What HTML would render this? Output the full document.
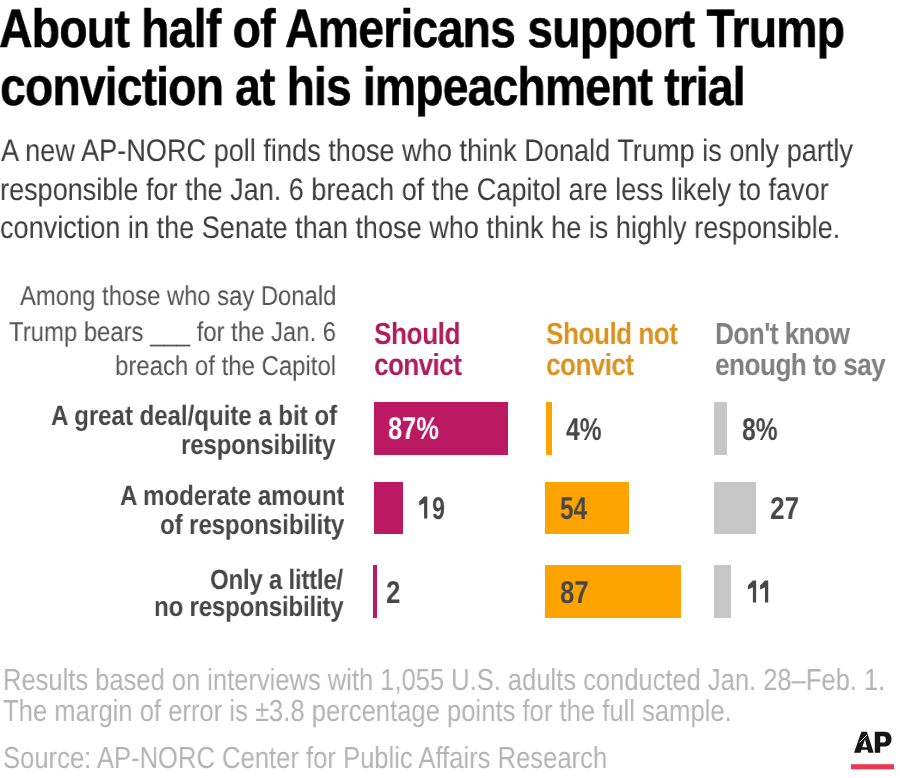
<!DOCTYPE html>
<html><head><meta charset="utf-8"><style>
html,body{margin:0;padding:0;background:#fff;}
body{width:900px;height:778px;position:relative;overflow:hidden;font-family:"Liberation Sans",sans-serif;}
.t{position:absolute;white-space:pre;line-height:0;transform-origin:0 0;text-rendering:geometricPrecision;will-change:transform;}
.b{position:absolute;}
</style></head><body>
<div class="b" style="left:374px;top:402px;width:134px;height:52.5px;background:#bb1a62"></div>
<div class="b" style="left:545.5px;top:402px;width:6.7000000000000455px;height:52.5px;background:#ffa300"></div>
<div class="b" style="left:714px;top:402px;width:13px;height:52.5px;background:#c6c6c6"></div>
<div class="b" style="left:374px;top:482px;width:29px;height:52px;background:#bb1a62"></div>
<div class="b" style="left:545px;top:482px;width:84px;height:52px;background:#ffa300"></div>
<div class="b" style="left:714px;top:482px;width:42px;height:52px;background:#c6c6c6"></div>
<div class="b" style="left:373px;top:565px;width:3.5px;height:53px;background:#bb1a62"></div>
<div class="b" style="left:545px;top:565px;width:136px;height:53px;background:#ffa300"></div>
<div class="b" style="left:714px;top:565px;width:17px;height:53px;background:#c6c6c6"></div>
<div class="t" style="left:-0.72px;top:29.40px;font-size:54px;font-weight:700;color:#000;transform:scaleX(0.8600);letter-spacing:-0.953px;-webkit-text-stroke:0.5px currentColor">About half of Americans support Trump</div>
<div class="t" style="left:0.35px;top:86.60px;font-size:54px;font-weight:700;color:#000;transform:scaleX(0.8600);letter-spacing:-1.065px;-webkit-text-stroke:0.5px currentColor">conviction at his impeachment trial</div>
<div class="t" style="left:1.03px;top:151.00px;font-size:31.2px;font-weight:400;color:#3d3d3d;transform:scaleX(0.8699);letter-spacing:0.000px">A new AP-NORC poll finds those who think Donald Trump is only partly</div>
<div class="t" style="left:0.02px;top:189.70px;font-size:31.2px;font-weight:400;color:#3d3d3d;transform:scaleX(0.8676);letter-spacing:0.000px">responsible for the Jan. 6 breach of the Capitol are less likely to favor</div>
<div class="t" style="left:-0.02px;top:228.20px;font-size:31.2px;font-weight:400;color:#3d3d3d;transform:scaleX(0.8685);letter-spacing:0.000px">conviction in the Senate than those who think he is highly responsible.</div>
<div class="t" style="left:20.03px;top:296.30px;font-size:27.3px;font-weight:400;color:#555;transform:scaleX(0.8722);letter-spacing:0.000px">Among those who say Donald</div>
<div class="t" style="left:9.05px;top:331.50px;font-size:27.3px;font-weight:400;color:#555;transform:scaleX(0.8750);letter-spacing:0.000px">Trump bears ___ for the Jan. 6</div>
<div class="t" style="left:115.45px;top:365.80px;font-size:27.3px;font-weight:400;color:#555;transform:scaleX(0.8777);letter-spacing:0.000px">breach of the Capitol</div>
<div class="t" style="left:373.59px;top:333.80px;font-size:30.5px;font-weight:700;color:#b01c5e;transform:scaleX(0.8600);letter-spacing:-0.566px">Should</div>
<div class="t" style="left:373.57px;top:365.20px;font-size:30.5px;font-weight:700;color:#b01c5e;transform:scaleX(0.8600);letter-spacing:-0.788px">convict</div>
<div class="t" style="left:546.19px;top:333.80px;font-size:30.5px;font-weight:700;color:#db931e;transform:scaleX(0.8600);letter-spacing:-0.646px">Should not</div>
<div class="t" style="left:546.17px;top:365.20px;font-size:30.5px;font-weight:700;color:#db931e;transform:scaleX(0.8600);letter-spacing:-0.710px">convict</div>
<div class="t" style="left:714.66px;top:333.80px;font-size:30.5px;font-weight:700;color:#808080;transform:scaleX(0.8600);letter-spacing:-0.696px">Don&#x27;t know</div>
<div class="t" style="left:715.47px;top:365.20px;font-size:30.5px;font-weight:700;color:#808080;transform:scaleX(0.8600);letter-spacing:-0.680px">enough to say</div>
<div class="t" style="left:50.89px;top:415.60px;font-size:28px;font-weight:700;color:#474747;transform:scaleX(0.8600);letter-spacing:-0.034px">A great deal/quite a bit of</div>
<div class="t" style="left:180.61px;top:444.60px;font-size:28px;font-weight:700;color:#474747;transform:scaleX(0.8600);letter-spacing:-0.195px">responsibility</div>
<div class="t" style="left:120.49px;top:496.10px;font-size:28px;font-weight:700;color:#474747;transform:scaleX(0.8600);letter-spacing:-0.054px">A moderate amount</div>
<div class="t" style="left:160.40px;top:524.90px;font-size:28px;font-weight:700;color:#474747;transform:scaleX(0.8600);letter-spacing:-0.115px">of responsibility</div>
<div class="t" style="left:210.09px;top:579.80px;font-size:28px;font-weight:700;color:#474747;transform:scaleX(0.8600);letter-spacing:-0.301px">Only a little/</div>
<div class="t" style="left:154.31px;top:607.40px;font-size:28px;font-weight:700;color:#474747;transform:scaleX(0.8600);letter-spacing:-0.218px">no responsibility</div>
<div class="t" style="left:387.57px;top:428.30px;font-size:31.6px;font-weight:700;color:#fff;transform:scaleX(0.8027);letter-spacing:0.000px">87%</div>
<div class="t" style="left:566.30px;top:428.50px;font-size:31.6px;font-weight:700;color:#474747;transform:scaleX(0.7810);letter-spacing:0.000px">4%</div>
<div class="t" style="left:741.79px;top:428.50px;font-size:31.6px;font-weight:700;color:#474747;transform:scaleX(0.7813);letter-spacing:0.000px">8%</div>
<div class="t" style="left:431.67px;top:507.80px;font-size:31.6px;font-weight:700;color:#474747;transform:scaleX(0.7303);letter-spacing:0.000px">9</div>
<div class="t" style="left:560.46px;top:508.00px;font-size:31.6px;font-weight:700;color:#474747;transform:scaleX(0.7700);letter-spacing:0.000px">54</div>
<div class="t" style="left:770.13px;top:508.00px;font-size:31.6px;font-weight:700;color:#474747;transform:scaleX(0.8306);letter-spacing:0.000px">27</div>
<div class="t" style="left:386.24px;top:591.80px;font-size:31.6px;font-weight:700;color:#474747;transform:scaleX(0.8203);letter-spacing:0.000px">2</div>
<div class="t" style="left:559.86px;top:592.00px;font-size:31.6px;font-weight:700;color:#474747;transform:scaleX(0.8150);letter-spacing:0.000px">87</div>
<div class="t" style="left:3.28px;top:680.10px;font-size:30.4px;font-weight:400;color:#b4b4b4;transform:scaleX(0.8396);letter-spacing:0.000px">Results based on interviews with 1,055 U.S. adults conducted Jan. 28–Feb. 1.</div>
<div class="t" style="left:3.42px;top:711.00px;font-size:30.4px;font-weight:400;color:#b4b4b4;transform:scaleX(0.8428);letter-spacing:0.000px">The margin of error is ±3.8 percentage points for the full sample.</div>
<div class="t" style="left:3.37px;top:757.50px;font-size:30.4px;font-weight:400;color:#b4b4b4;transform:scaleX(0.8422);letter-spacing:0.000px">Source: AP-NORC Center for Public Affairs Research</div>
<svg style="position:absolute;left:0;top:0" width="900" height="778" viewBox="0 0 900 778"><path fill="#474747" d="M424.1,496.4 L427.3,496.4 L427.3,518.6 L424.1,518.6 L424.1,503.2 L419.20000000000005,505.5 L419.20000000000005,501.59999999999997 Z M752.9,580.4 L756.1,580.4 L756.1,602.6 L752.9,602.6 L752.9,587.1999999999999 L748.0,589.5 L748.0,585.6 Z M765.0,580.4 L768.2,580.4 L768.2,602.6 L765.0,602.6 L765.0,587.1999999999999 L760.1,589.5 L760.1,585.6 Z "/></svg>
<svg style="position:absolute;left:845px;top:725px" width="55" height="50" viewBox="845 725 55 50">
<path fill="#161616" fill-rule="evenodd" d="M854,752.8 L861.4,731.8 L866.9,731.8 L873.7,752.8 L868.4,752.8 L867.5,749.7 L861.5,749.7 L860.6,752.8 Z M862.2,747.3 L867,747.3 L865,739.3 Z"/>
<path fill="#161616" fill-rule="evenodd" d="M874.8,752.8 L874.8,731.8 L884.8,731.8 C889.2,731.8 891.5,734.8 891.5,739.2 C891.5,743.6 888.8,746.6 884.5,746.6 L880.2,746.6 L880.2,752.8 Z M880.2,736.3 L880.2,742.5 L883.3,742.5 C884.9,742.5 885.9,741.3 885.9,739.4 C885.9,737.5 884.9,736.3 883.3,736.3 Z"/>
<path stroke="#fff" stroke-width="0.9" d="M867.2,734.8 L859.4,742.6"/>
<rect x="851" y="764.2" width="43" height="5.1" fill="#eb3750"/>
</svg>
</body></html>
